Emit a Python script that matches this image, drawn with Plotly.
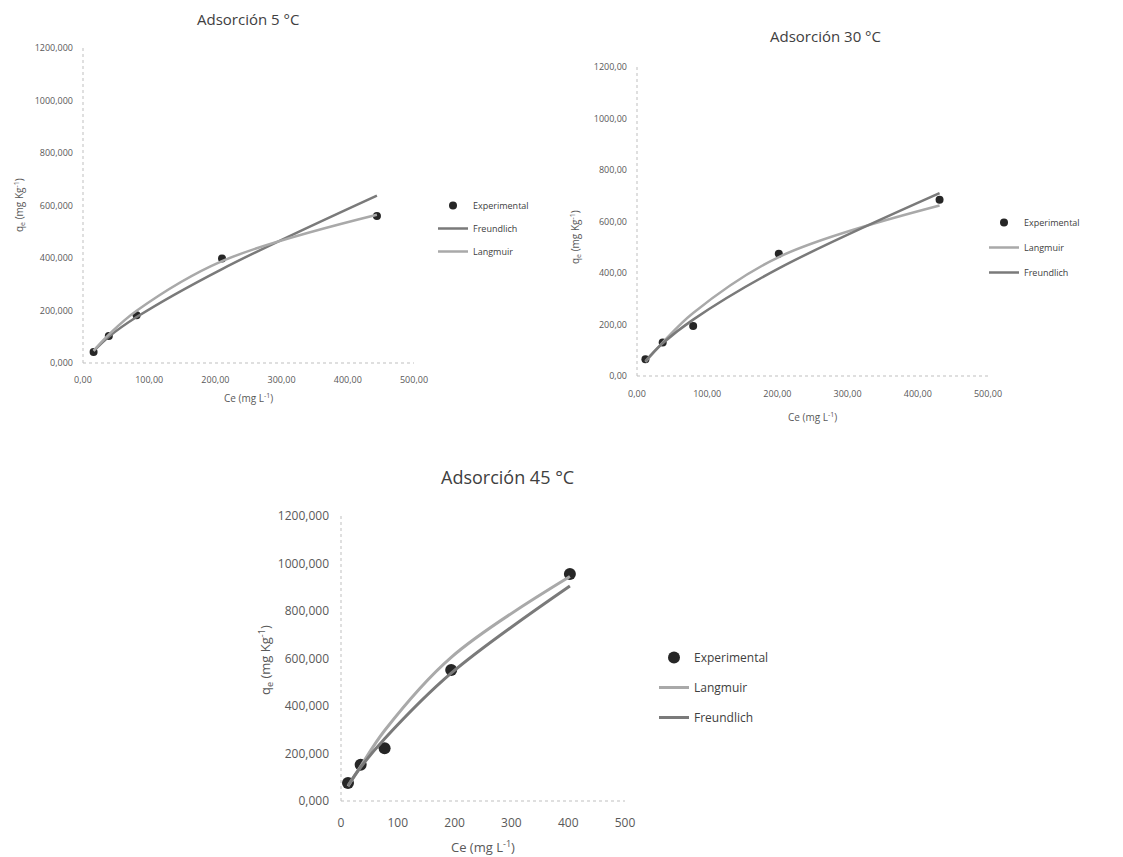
import plotly.graph_objects as go

# ---------------- data ----------------
ce_5 = [16, 39, 81, 210, 444]
exp_5 = [42, 103, 182, 398, 560]
freund_5 = [45, 100, 175, 358, 638]
lang_5 = [47, 108, 199, 388, 565]

ce_30 = [12, 36.6, 80, 202, 431]
exp_30 = [65, 130, 194, 475, 684]
lang_30 = [55, 130, 245, 462, 662]
freund_30 = [58, 127, 219, 418, 710]

ce_45 = [12.3, 34.6, 76.8, 194, 403]
exp_45 = [76, 153, 222, 552, 956]
lang_45 = [62, 146, 297, 605, 945]
freund_45 = [65, 142, 262, 538, 905]

y_ticks = [0, 200, 400, 600, 800, 1000, 1200]
y_text_3dec = ["0,000", "200,000", "400,000", "600,000", "800,000", "1000,000", "1200,000"]
y_text_2dec = ["0,00", "200,00", "400,00", "600,00", "800,00", "1000,00", "1200,00"]
x_ticks = [0, 100, 200, 300, 400, 500]
x_text_2dec = ["0,00", "100,00", "200,00", "300,00", "400,00", "500,00"]
x_text_int = ["0", "100", "200", "300", "400", "500"]

titles = ["Adsorción 5 °C", "Adsorción 30 °C", "Adsorción 45 °C"]

# ---------------- style ----------------
FONT = "Open Sans"
DARK = "#7a7a7a"
LIGHT = "#a9a9a9"
MARK = "#262626"
TXT = "#595959"

fig = go.Figure()

def add_panel(n, ce, exp, series, msize, lw, legend):
    xa = "x" if n == 1 else f"x{n}"
    ya = "y" if n == 1 else f"y{n}"
    fig.add_trace(go.Scatter(x=ce, y=exp, mode="markers", name="Experimental",
                             marker=dict(color=MARK, size=msize),
                             xaxis=xa, yaxis=ya, legend=legend, legendgroup=f"{n}a"))
    for i, (name, vals, col) in enumerate(series):
        fig.add_trace(go.Scatter(x=ce, y=vals, mode="lines", name=name,
                                 line=dict(color=col, width=lw, shape="spline"),
                                 xaxis=xa, yaxis=ya, legend=legend,
                                 legendgroup=f"{n}{'bc'[i]}"))

add_panel(1, ce_5, exp_5, [("Freundlich", freund_5, DARK), ("Langmuir", lang_5, LIGHT)], 8, 2.5, "legend")
add_panel(2, ce_30, exp_30, [("Langmuir", lang_30, LIGHT), ("Freundlich", freund_30, DARK)], 8, 2.5, "legend2")
add_panel(3, ce_45, exp_45, [("Langmuir", lang_45, LIGHT), ("Freundlich", freund_45, DARK)], 12, 3, "legend3")

W, H = 1123, 857
def px(x):
    return x / W
def py(y):
    return 1 - y / H

# domains in pixels: (left, right, top, bottom)
doms = {1: (83, 414, 48, 363), 2: (637, 988, 67, 376), 3: (341, 625, 516, 801)}
tick_fs = {1: 9, 2: 9, 3: 12}
ystand = {1: 9, 2: 9, 3: 11}
xstand = {1: 10, 2: 11, 3: 13}
ytexts = {1: y_text_3dec, 2: y_text_2dec, 3: y_text_3dec}
xtexts = {1: x_text_2dec, 2: x_text_2dec, 3: x_text_int}

layout = dict(width=W, height=H, margin=dict(l=0, r=0, t=0, b=0, autoexpand=False),
              plot_bgcolor="white", paper_bgcolor="white",
              font=dict(family=FONT, color=TXT), showlegend=True)
shapes = []
for n, (l, r, t, b) in doms.items():
    sfx = "" if n == 1 else str(n)
    layout[f"xaxis{sfx}"] = dict(domain=[px(l), px(r)], range=[0, 500], anchor=f"y{sfx}",
                                 tickvals=x_ticks, ticktext=xtexts[n], showgrid=False,
                                 zeroline=False, showline=False, ticks="", automargin=False,
                                 ticklabelstandoff=xstand[n],
                                 tickfont=dict(size=tick_fs[n], color=TXT, family=FONT))
    layout[f"yaxis{sfx}"] = dict(domain=[py(b), py(t)], range=[0, 1200], anchor=f"x{sfx}",
                                 tickvals=y_ticks, ticktext=ytexts[n], showgrid=False,
                                 zeroline=False, showline=False, ticks="", automargin=False,
                                 ticklabelstandoff=ystand[n],
                                 tickfont=dict(size=tick_fs[n], color=TXT, family=FONT))
    xr = f"x{sfx} domain"
    yr = f"y{sfx} domain"
    shapes.append(dict(type="line", xref=xr, yref=yr, x0=0, x1=1, y0=0, y1=0,
                       line=dict(color="#bfbfbf", width=1, dash="dot"), layer="below"))
    shapes.append(dict(type="line", xref=xr, yref=yr, x0=0, x1=0, y0=0, y1=1,
                       line=dict(color="#bfbfbf", width=1, dash="dot"), layer="below"))
layout["shapes"] = shapes

def leg(x, y, fs, gap):
    return dict(x=px(x), y=py(y), xanchor="left", yanchor="top", bgcolor="rgba(0,0,0,0)",
                font=dict(size=fs, color="#404040", family=FONT),
                traceorder="grouped", tracegroupgap=gap, itemwidth=30)

layout["legend"] = leg(433, 191, 9, 4)
layout["legend2"] = leg(984, 208, 9, 6)
layout["legend3"] = leg(654, 643, 12, 11)

ann = []
def add_ann(text, x, y, size, color, angle=0):
    ann.append(dict(text=text, x=px(x), y=py(y), xref="paper", yref="paper",
                    xanchor="center", yanchor="middle", showarrow=False, textangle=angle,
                    font=dict(size=size, color=color, family=FONT)))

add_ann(titles[0], 248, 19, 15, "#404040")
add_ann(titles[1], 825, 36, 15, "#404040")
add_ann(titles[2], 507, 477, 18, "#404040")
xt = "Ce (mg L<sup>-1</sup>)"
yt = "q<sub>e</sub> (mg Kg<sup>-1</sup>)"
add_ann(xt, 248, 398, 10, TXT)
add_ann(yt, 20, 205, 10, TXT, -90)
add_ann(xt, 812, 417, 10, TXT)
add_ann(yt, 576, 237, 10, TXT, -90)
add_ann(xt, 483, 846, 13, TXT)
add_ann(yt, 265, 660, 13, TXT, -90)
layout["annotations"] = ann

fig.update_layout(**layout)
fig.write_html("out.html", config={"displayModeBar": False},
               post_script="document.body.style.margin='0px';")
